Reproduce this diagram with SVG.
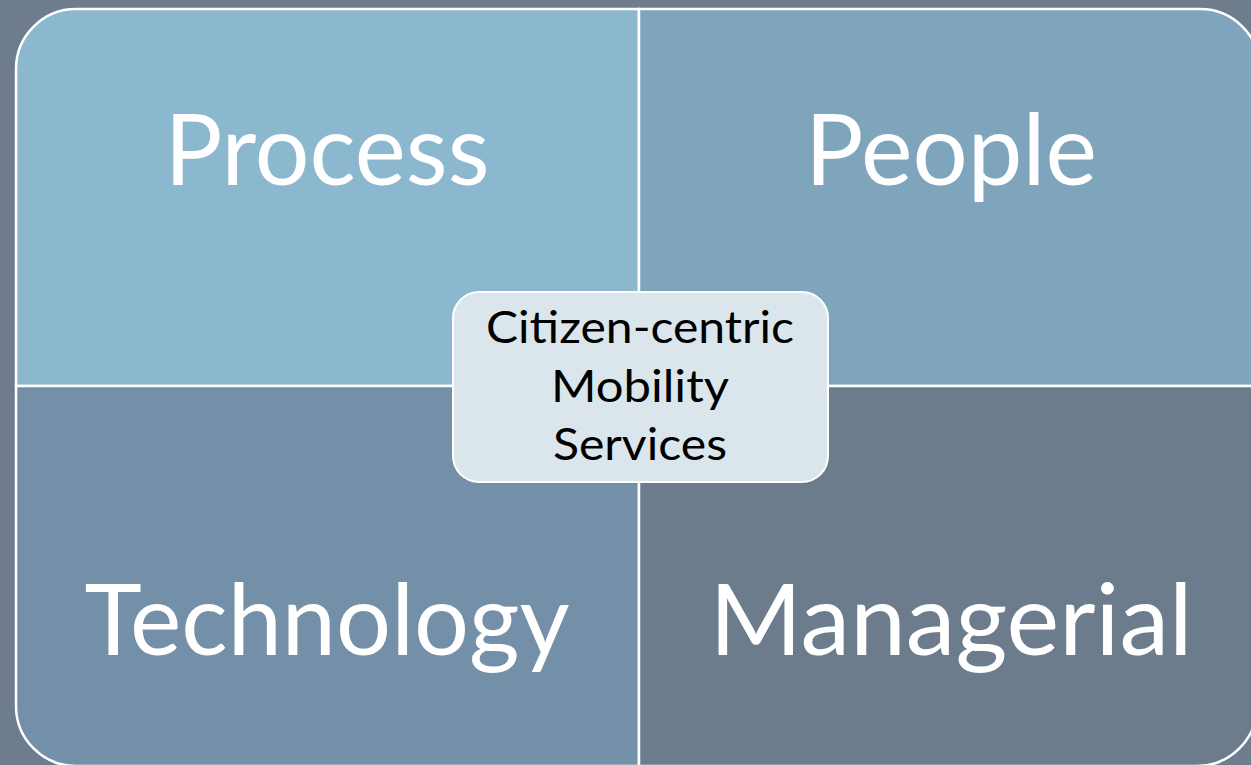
<svg xmlns="http://www.w3.org/2000/svg" width="1251" height="765" viewBox="0 0 1251 765">
<style>
.q{stroke:#fff;stroke-width:2.5}
.big{font-family:Lato,"Open Sans","Liberation Sans",sans-serif;font-size:98px;fill:#fff;text-anchor:middle}
.small{font-family:Lato,"Open Sans","Liberation Sans",sans-serif;font-size:44px;fill:#000;text-anchor:middle}
</style>
<rect x="0" y="0" width="1251" height="765" fill="#6E7C8D"/>
<g id="process">
<path class="q" fill="#8BB8CE" d="M639,386 L16,386 L16,69 A60,60 0 0 1 76,9 L639,9 Z"/>
<text class="big" x="327" y="185" textLength="325" lengthAdjust="spacingAndGlyphs">Process</text>
</g>
<g id="people">
<path class="q" fill="#7FA5BC" d="M639,386 L639,9 L1200,9 A60,60 0 0 1 1260,69 L1260,386 Z"/>
<text class="big" x="951" y="185" textLength="292" lengthAdjust="spacingAndGlyphs">People</text>
</g>
<g id="technology">
<path class="q" fill="#7490A8" d="M639,386 L16,386 L16,706 A60,60 0 0 0 76,766 L639,766 Z"/>
<text class="big" x="327" y="655" textLength="485" lengthAdjust="spacingAndGlyphs">Technology</text>
</g>
<g id="managerial">
<path class="q" fill="#6C7C8D" d="M639,386 L639,766 L1197,766 A60,60 0 0 0 1257,706 L1257,386 Z"/>
<text class="big" x="951" y="655" textLength="483" lengthAdjust="spacingAndGlyphs">Managerial</text>
</g>
<g id="center">
<rect x="453" y="292" width="375" height="190" rx="26" ry="26" fill="#DAE6EC" stroke="#fff" stroke-width="2"/>
<text class="small" x="640" y="343" textLength="308" lengthAdjust="spacingAndGlyphs">Citizen-centric</text>
<text class="small" x="640" y="402" textLength="178" lengthAdjust="spacingAndGlyphs">Mobility</text>
<text class="small" x="640" y="460" textLength="174" lengthAdjust="spacingAndGlyphs">Services</text>
</g>
<g id="connectors"/>
</svg>
